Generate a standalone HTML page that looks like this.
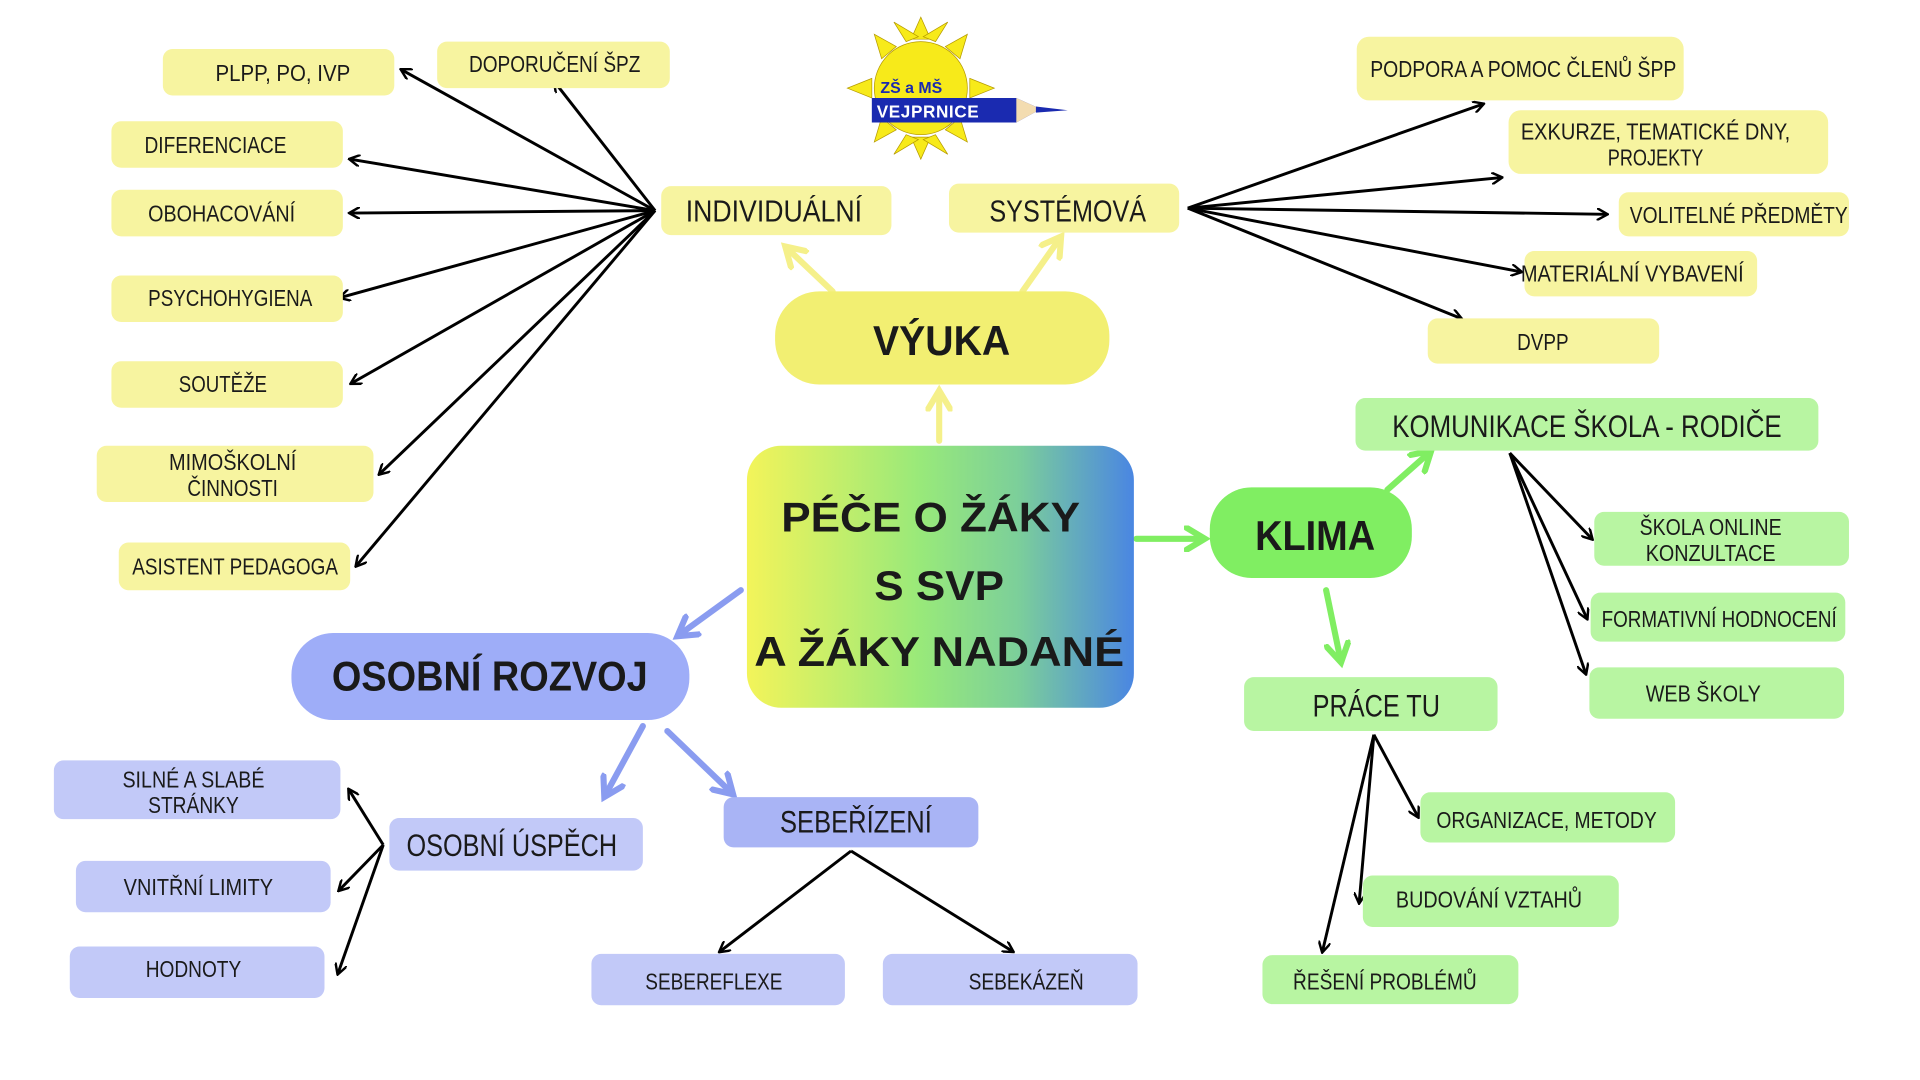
<!DOCTYPE html>
<html><head><meta charset="utf-8"><style>
html,body{margin:0;padding:0;background:#fff;width:1920px;height:1080px;overflow:hidden}
svg{display:block}
text{font-family:"Liberation Sans","DejaVu Sans",sans-serif;fill:#1a1a1a}
.t{font-size:19px}
.b{font-weight:bold;font-size:34px;fill:#111}
</style></head><body>
<svg width="1920" height="1080" viewBox="0 0 1568 882" preserveAspectRatio="none" xmlns="http://www.w3.org/2000/svg">
<defs>
<linearGradient id="g" x1="0" y1="0" x2="1" y2="0">
<stop offset="0" stop-color="#f3f45a"/><stop offset="0.45" stop-color="#98e97a"/><stop offset="0.7" stop-color="#7ccf9a"/><stop offset="1" stop-color="#4a86e2"/></linearGradient>
<marker id="ah" markerWidth="10" markerHeight="10" refX="8" refY="5" orient="auto" markerUnits="userSpaceOnUse"><path d="M0,0 L9,5 L0,10" fill="none" stroke="#000" stroke-width="2"/></marker>
<marker id="ay" markerWidth="22" markerHeight="22" refX="16" refY="11" orient="auto" markerUnits="userSpaceOnUse"><path d="M2,2 L17,11 L2,20" fill="none" stroke="#f5f08a" stroke-width="5" stroke-linecap="round"/></marker>
<marker id="agr" markerWidth="22" markerHeight="22" refX="16" refY="11" orient="auto" markerUnits="userSpaceOnUse"><path d="M2,2 L17,11 L2,20" fill="none" stroke="#80ee62" stroke-width="5" stroke-linecap="round"/></marker>
<marker id="ab" markerWidth="22" markerHeight="22" refX="16" refY="11" orient="auto" markerUnits="userSpaceOnUse"><path d="M2,2 L17,11 L2,20" fill="none" stroke="#8a9cf0" stroke-width="5" stroke-linecap="round"/></marker>
</defs>

<g stroke="#000" stroke-width="2.4" fill="none" marker-end="url(#ah)">
<line x1="535" y1="172" x2="328" y2="57"/>
<line x1="535" y1="172" x2="453" y2="67"/>
<line x1="535" y1="172" x2="286" y2="130"/>
<line x1="535" y1="172" x2="286" y2="174"/>
<line x1="535" y1="172" x2="278" y2="243"/>
<line x1="535" y1="172" x2="287" y2="313"/>
<line x1="535" y1="172" x2="310" y2="387"/>
<line x1="535" y1="172" x2="291" y2="462"/>
<line x1="970" y1="170" x2="1211" y2="85"/>
<line x1="970" y1="170" x2="1226" y2="145"/>
<line x1="970" y1="170" x2="1312" y2="175"/>
<line x1="970" y1="170" x2="1242" y2="222"/>
<line x1="970" y1="170" x2="1193" y2="260"/>
<line x1="1233" y1="370" x2="1300" y2="440"/>
<line x1="1233" y1="370" x2="1296" y2="505"/>
<line x1="1233" y1="370" x2="1295" y2="550"/>
<line x1="1122" y1="600" x2="1158" y2="667"/>
<line x1="1122" y1="600" x2="1110" y2="737"/>
<line x1="1122" y1="600" x2="1080" y2="777"/>
<line x1="313" y1="690" x2="285" y2="645"/>
<line x1="313" y1="690" x2="277" y2="727"/>
<line x1="313" y1="690" x2="276" y2="795"/>
<line x1="695" y1="695" x2="588" y2="777"/>
<line x1="695" y1="695" x2="827" y2="777"/>
</g>

<g stroke-width="5" stroke-linecap="round" fill="none">
<line x1="767" y1="360" x2="767" y2="320" stroke="#f5f08a" marker-end="url(#ay)"/>
<line x1="680" y1="238" x2="642" y2="202" stroke="#f5f08a" marker-end="url(#ay)"/>
<line x1="835" y1="238" x2="866" y2="194" stroke="#f5f08a" marker-end="url(#ay)"/>
<line x1="928" y1="440" x2="983" y2="440" stroke="#80ee62" marker-end="url(#agr)"/>
<line x1="1133" y1="400" x2="1168" y2="369" stroke="#80ee62" marker-end="url(#agr)"/>
<line x1="1083" y1="482" x2="1095" y2="540" stroke="#80ee62" marker-end="url(#agr)"/>
<line x1="605" y1="482" x2="554" y2="519" stroke="#8a9cf0" marker-end="url(#ab)"/>
<line x1="525" y1="593" x2="494" y2="650" stroke="#8a9cf0" marker-end="url(#ab)"/>
<line x1="545" y1="597" x2="598" y2="648" stroke="#8a9cf0" marker-end="url(#ab)"/>
</g>

<g transform="translate(752,72)">
<g fill="#f7ea1a" stroke="#b59a00" stroke-width="0.6">
<polygon points="-8,-40 0,-58 8,-40"/>
<polygon points="-8,40 0,58 8,40"/>
<polygon points="-40,-8 -60,0 -40,8"/>
<polygon points="40,-8 60,0 40,8"/>
<polygon points="20,-34 38,-44 32,-24"/>
<polygon points="-20,-34 -38,-44 -32,-24"/>
<polygon points="20,34 38,44 32,24"/>
<polygon points="-20,34 -38,44 -32,24"/>
<polygon points="-12,-38 -22,-54 -2,-42"/>
<polygon points="12,-38 22,-54 2,-42"/>
<polygon points="-12,38 -22,54 -2,42"/>
<polygon points="12,38 22,54 2,42"/>
<circle r="38" fill="#f7ea1a"/>
</g>
<path d="M-40,8 L78,8 L98,17 L78,28 L-40,28 Z" fill="#1a2ab0"/>
<path d="M78,8 L98,17 L78,28 Z" fill="#f3dcb0"/>
<path d="M94,15 L120,18 L94,20Z" fill="#1a2ab0"/>
<text x="-33" y="4" style="font-size:13px;font-weight:bold;fill:#1a2ab0">ZŠ a MŠ</text>
<text x="-36" y="24" style="font-size:14px;font-weight:bold;fill:#fff;letter-spacing:0.5px">VEJPRNICE</text>
</g>

<g fill="#f7f4a0">
<rect x="133" y="40" width="189" height="38" rx="8"/>
<rect x="357" y="34" width="190" height="38" rx="8"/>
<rect x="91" y="99" width="189" height="38" rx="8"/>
<rect x="91" y="155" width="189" height="38" rx="8"/>
<rect x="91" y="225" width="189" height="38" rx="8"/>
<rect x="91" y="295" width="189" height="38" rx="8"/>
<rect x="79" y="364" width="226" height="46" rx="8"/>
<rect x="97" y="443" width="189" height="39" rx="8"/>
<rect x="540" y="152" width="188" height="40" rx="8"/>
<rect x="775" y="150" width="188" height="40" rx="8"/>
<rect x="1108" y="30" width="267" height="52" rx="10"/>
<rect x="1232" y="90" width="261" height="52" rx="10"/>
<rect x="1322" y="157" width="188" height="36" rx="8"/>
<rect x="1245" y="205" width="190" height="37" rx="8"/>
<rect x="1166" y="260" width="189" height="37" rx="8"/>
</g>
<rect x="633" y="238" width="273" height="76" rx="36" fill="#f2ef72"/>

<rect x="610" y="364" width="316" height="214" rx="28" fill="url(#g)"/>

<rect x="988" y="398" width="165" height="74" rx="34" fill="#80ee62"/>
<g fill="#b8f5a2">
<rect x="1107" y="325" width="378" height="43" rx="8"/>
<rect x="1302" y="418" width="208" height="44" rx="8"/>
<rect x="1299" y="484" width="208" height="40" rx="8"/>
<rect x="1298" y="545" width="208" height="42" rx="8"/>
<rect x="1016" y="553" width="207" height="44" rx="8"/>
<rect x="1160" y="647" width="208" height="41" rx="8"/>
<rect x="1113" y="715" width="209" height="42" rx="8"/>
<rect x="1031" y="780" width="209" height="40" rx="8"/>
</g>

<rect x="238" y="517" width="325" height="71" rx="34" fill="#9eadf8"/>
<rect x="591" y="651" width="208" height="41" rx="8" fill="#a9b4f5"/>
<g fill="#c2c9f8">
<rect x="44" y="621" width="234" height="48" rx="8"/>
<rect x="62" y="703" width="208" height="42" rx="8"/>
<rect x="57" y="773" width="208" height="42" rx="8"/>
<rect x="318" y="668" width="207" height="43" rx="8"/>
<rect x="483" y="779" width="207" height="42" rx="8"/>
<rect x="721" y="779" width="208" height="42" rx="8"/>
</g>

<g class="t" text-anchor="middle">
<text x="231" y="66" textLength="110" lengthAdjust="spacingAndGlyphs">PLPP,  PO, IVP</text>
<text x="453" y="59" textLength="140" lengthAdjust="spacingAndGlyphs">DOPORUČENÍ ŠPZ</text>
<text x="176" y="125" textLength="116" lengthAdjust="spacingAndGlyphs">DIFERENCIACE</text>
<text x="181" y="181" textLength="120" lengthAdjust="spacingAndGlyphs">OBOHACOVÁNÍ</text>
<text x="188" y="250" textLength="134" lengthAdjust="spacingAndGlyphs">PSYCHOHYGIENA</text>
<text x="182" y="320" textLength="72" lengthAdjust="spacingAndGlyphs">SOUTĚŽE</text>
<text x="190" y="384" textLength="104" lengthAdjust="spacingAndGlyphs">MIMOŠKOLNÍ</text>
<text x="190" y="405" textLength="74" lengthAdjust="spacingAndGlyphs">ČINNOSTI</text>
<text x="192" y="469" textLength="168" lengthAdjust="spacingAndGlyphs">ASISTENT PEDAGOGA</text>
<text x="632" y="181" style="font-size:25px" textLength="144" lengthAdjust="spacingAndGlyphs">INDIVIDUÁLNÍ</text>
<text x="872" y="181" style="font-size:25px" textLength="128" lengthAdjust="spacingAndGlyphs">SYSTÉMOVÁ</text>
<text x="1244" y="63" textLength="250" lengthAdjust="spacingAndGlyphs">PODPORA A POMOC ČLENŮ ŠPP</text>
<text x="1352" y="114" textLength="220" lengthAdjust="spacingAndGlyphs">EXKURZE, TEMATICKÉ  DNY,</text>
<text x="1352" y="135" textLength="78" lengthAdjust="spacingAndGlyphs">PROJEKTY</text>
<text x="1420" y="182" textLength="178" lengthAdjust="spacingAndGlyphs">VOLITELNÉ PŘEDMĚTY</text>
<text x="1333" y="230" textLength="182" lengthAdjust="spacingAndGlyphs">MATERIÁLNÍ VYBAVENÍ</text>
<text x="1260" y="286" textLength="42" lengthAdjust="spacingAndGlyphs">DVPP</text>
<text x="1296" y="357" style="font-size:26px" textLength="318" lengthAdjust="spacingAndGlyphs">KOMUNIKACE ŠKOLA - RODIČE</text>
<text x="1397" y="437" textLength="116" lengthAdjust="spacingAndGlyphs">ŠKOLA ONLINE</text>
<text x="1397" y="458" textLength="106" lengthAdjust="spacingAndGlyphs">KONZULTACE</text>
<text x="1404" y="512" textLength="192" lengthAdjust="spacingAndGlyphs">FORMATIVNÍ HODNOCENÍ</text>
<text x="1391" y="573" textLength="94" lengthAdjust="spacingAndGlyphs">WEB ŠKOLY</text>
<text x="1124" y="585" style="font-size:26px" textLength="104" lengthAdjust="spacingAndGlyphs">PRÁCE TU</text>
<text x="1263" y="676" textLength="180" lengthAdjust="spacingAndGlyphs">ORGANIZACE, METODY</text>
<text x="1216" y="741" textLength="152" lengthAdjust="spacingAndGlyphs">BUDOVÁNÍ VZTAHŮ</text>
<text x="1131" y="808" textLength="150" lengthAdjust="spacingAndGlyphs">ŘEŠENÍ PROBLÉMŮ</text>
<text x="158" y="643" textLength="116" lengthAdjust="spacingAndGlyphs">SILNÉ A SLABÉ</text>
<text x="158" y="664" textLength="74" lengthAdjust="spacingAndGlyphs">STRÁNKY</text>
<text x="162" y="731" textLength="122" lengthAdjust="spacingAndGlyphs">VNITŘNÍ LIMITY</text>
<text x="158" y="798" textLength="78" lengthAdjust="spacingAndGlyphs">HODNOTY</text>
<text x="418" y="699" style="font-size:26px" textLength="172" lengthAdjust="spacingAndGlyphs">OSOBNÍ ÚSPĚCH</text>
<text x="699" y="680" style="font-size:26px" textLength="124" lengthAdjust="spacingAndGlyphs">SEBEŘÍZENÍ</text>
<text x="583" y="808" textLength="112" lengthAdjust="spacingAndGlyphs">SEBEREFLEXE</text>
<text x="838" y="808" textLength="94" lengthAdjust="spacingAndGlyphs">SEBEKÁZEŇ</text>
</g>
<g class="b" text-anchor="middle">
<text x="769" y="290" textLength="112" lengthAdjust="spacingAndGlyphs">VÝUKA</text>
<text x="760" y="434" textLength="244" lengthAdjust="spacingAndGlyphs">PÉČE O ŽÁKY</text>
<text x="767" y="490" textLength="106" lengthAdjust="spacingAndGlyphs">S SVP</text>
<text x="767" y="544" textLength="302" lengthAdjust="spacingAndGlyphs">A ŽÁKY NADANÉ</text>
<text x="1074" y="449" textLength="98" lengthAdjust="spacingAndGlyphs">KLIMA</text>
<text x="400" y="564" textLength="258" lengthAdjust="spacingAndGlyphs">OSOBNÍ ROZVOJ</text>
</g>
</svg>
</body></html>
